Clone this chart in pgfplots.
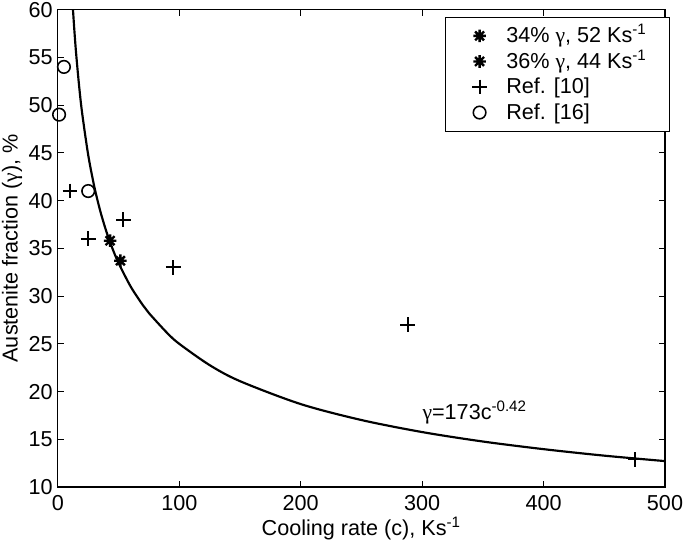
\documentclass[border=0pt]{standalone}
\usepackage{pgfplots}
\pgfplotsset{compat=1.18}
\usepackage{fontspec}
\setmainfont{Liberation Sans}
\newfontfamily\grk{Liberation Serif}
\pgfdeclareplotmark{ast8}{%
  \pgfpathmoveto{\pgfqpoint{-\pgfplotmarksize}{0pt}}\pgfpathlineto{\pgfqpoint{\pgfplotmarksize}{0pt}}%
  \pgfpathmoveto{\pgfqpoint{0pt}{-\pgfplotmarksize}}\pgfpathlineto{\pgfqpoint{0pt}{\pgfplotmarksize}}%
  \pgfpathmoveto{\pgfqpoint{-.7071\pgfplotmarksize}{-.7071\pgfplotmarksize}}\pgfpathlineto{\pgfqpoint{.7071\pgfplotmarksize}{.7071\pgfplotmarksize}}%
  \pgfpathmoveto{\pgfqpoint{-.7071\pgfplotmarksize}{.7071\pgfplotmarksize}}\pgfpathlineto{\pgfqpoint{.7071\pgfplotmarksize}{-.7071\pgfplotmarksize}}%
  \pgfusepathqstroke}
\begin{document}
\begin{tikzpicture}
\begin{axis}[
  scale only axis, width=309pt, height=243pt,
  xmin=0, xmax=500, ymin=10, ymax=60,
  xtick={0,100,...,500}, ytick={10,15,...,60},
  tick align=inside, major tick length=3pt,
  tick style={black, line width=0.5pt},
  axis line style={line width=0.6pt},
  every tick label/.append style={font=\fontsize{11}{13}\selectfont, inner sep=1pt},
  /pgf/number format/assume math mode=true,
  label style={font=\fontsize{11}{13}\selectfont, inner sep=1pt},
  xticklabel style={yshift=-3pt},
  yticklabel style={xshift=-1.5pt},
  xlabel={Cooling rate (c), Ks\textsuperscript{-1}},
  ylabel={Austenite fraction ({\grk γ}), \%},
  xlabel style={yshift=-1pt},
  ylabel style={yshift=1pt},
  legend style={at={(1,0.985)}, anchor=north east, xshift=2.5pt, draw=black, line width=0.5pt,
    font=\fontsize{11}{13}\selectfont, row sep=0pt, inner xsep=9.5pt, inner ysep=3pt,
    nodes={text height=9.5pt, text depth=2.5pt, inner ysep=0.5pt}},
  legend cell align=left,
  legend image code/.code={\path (0pt,0pt) (18pt,0pt);
    \draw[mark repeat=1,#1] plot coordinates {(7pt,0pt)};},
]
\addplot[black, line width=1.1pt, smooth, forget plot] coordinates {
 (12.44,60) (13.5,57.99) (15,55.46) (17.5,52.0) (20,49.16) (25,44.77) (30,41.47)
 (35,38.87) (40,36.74) (45,34.97) (50,33.46) (60,30.99) (70,29.05) (75,28.22)
 (90,26.14) (100,25.00) (125,22.77) (150,21.09) (200,18.69) (250,17.02)
 (300,15.76) (350,14.77) (400,13.97) (450,13.29) (500,12.72)
};
\addplot[only marks, mark=ast8, mark size=3.2pt, black, line width=1.2pt] coordinates {(51.5,33.7)};
\addlegendentry{34\% {\grk γ}, 52 Ks\textsuperscript{-1}}
\addplot[only marks, mark=ast8, mark size=3.2pt, black, line width=1.2pt] coordinates {(43,35.8)};
\addlegendentry{36\% {\grk γ}, 44 Ks\textsuperscript{-1}}
\addplot[only marks, mark=+, mark size=3.75pt, black, line width=1pt] coordinates {
 (10,41) (25,36) (54,38) (95,33) (288,27) (475.6,12.9)
};
\addlegendentry{Ref. [10]}
\addplot[only marks, mark=o, mark size=3.2pt, black, line width=0.8pt] coordinates {
 (5,54) (1,49) (25,41)
};
\addlegendentry{Ref. [16]}
\node[anchor=base west, font=\fontsize{11}{13}\selectfont, inner sep=0pt] at (axis cs:300,17.1) {{\grk γ}=173c\textsuperscript{-0.42}};
\end{axis}
\end{tikzpicture}
\end{document}
